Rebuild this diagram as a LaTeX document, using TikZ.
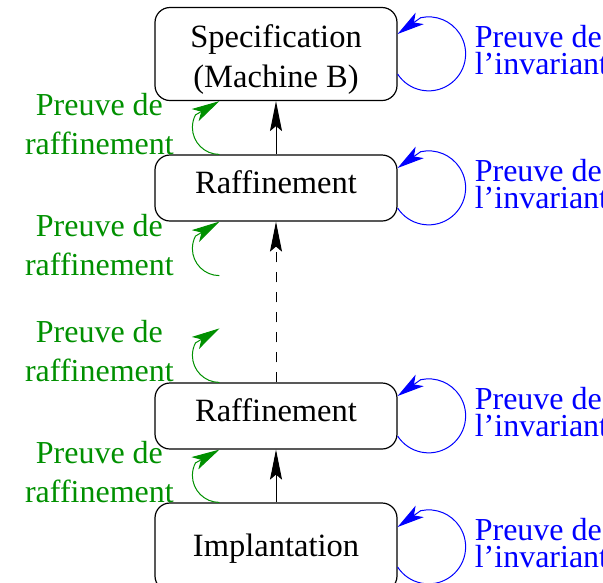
\documentclass[tikz,border=0pt]{standalone}
\usepackage{fontspec}
\setmainfont{Liberation Serif}
\usetikzlibrary{arrows.meta,calc}
\definecolor{proofgreen}{RGB}{0,144,0}
\definecolor{invblue}{RGB}{0,0,255}
\begin{document}
\begin{tikzpicture}[x=1pt,y=-1pt,
  box/.style={draw, line width=1.2pt, rounded corners=15pt, minimum width=242pt,
    inner sep=0pt, align=center, font=\fontsize{32.5}{40}\selectfont},
  refine/.style={-{Stealth[length=30pt,width=12pt,inset=5pt]}, line width=1pt},
  proof/.style={proofgreen, line width=1pt, -{Stealth[length=28pt,width=14pt,inset=7pt]}},
  invar/.style={invblue, line width=1pt, -{Stealth[length=27pt,width=14pt,inset=7pt]}},
  prooflabel/.style={proofgreen, align=center, inner sep=0pt, font=\fontsize{32}{39}\selectfont},
  invlabel/.style={invblue, align=left, inner sep=0pt, anchor=west, font=\fontsize{32}{27}\selectfont}]
\clip (0,0) rectangle (603,582);

% the four levels of the development
\node[box, minimum height=93pt] (spec) at (276,54) {\rule{0pt}{34pt}Speci{}fication\\(Machine B)};
\node[box, minimum height=66pt, text height=22pt, text depth=12pt] (raf1) at (276,188) {Raf{}f{}inement};
\node[box, minimum height=66pt, text height=22pt, text depth=12pt] (raf2) at (276,416) {Raf{}f{}inement};
\node[box, minimum height=88pt, text height=22pt, text depth=4pt] (impl) at (276,547) {Implantation};

% refinement links
\draw[refine] (raf1.north) -- (spec.south);
\draw[refine, dash pattern=on 10pt off 10pt] (raf2.north) -- (raf1.south);
\draw[refine] (impl.north) -- (raf2.south);

% refinement proof obligations
\coordinate (g1s) at ($(raf1.north west)+(65,0)$);
\coordinate (g1t) at ($(spec.south west)+(65,0)$);
\coordinate (g2s) at ($(raf1.south west)+(65,54)$);
\coordinate (g2t) at ($(raf1.south west)+(65,0)$);
\coordinate (g3s) at ($(raf2.north west)+(65,0)$);
\coordinate (g3t) at ($(raf2.north west)+(65,-54)$);
\coordinate (g4s) at ($(impl.north west)+(65,0)$);
\coordinate (g4t) at ($(raf2.south west)+(65,0)$);
\foreach \k in {1,...,4}{
  \draw[proof] (g\k s) arc[start angle=90, end angle=207.5, radius=27] -- (g\k t);
  \node[prooflabel] (p\k) at ($(g\k s)!0.5!(g\k t)+(-120,-4)$) {Preuve de\\raf{}f{}inement};
}

% invariant proof obligations
\foreach \n in {spec,raf1,raf2,impl}{
  \draw[invar] ($(\n.east)+(0,20)$) arc[start angle=147, end angle=-102.5, radius=37]
    -- ($(\n.east)+(0,-20)$);
  \node[invlabel] (inv-\n) at ($(\n.east)+(77,-4)$) {Preuve de\\l’invariant};
}
\end{tikzpicture}
\end{document}
